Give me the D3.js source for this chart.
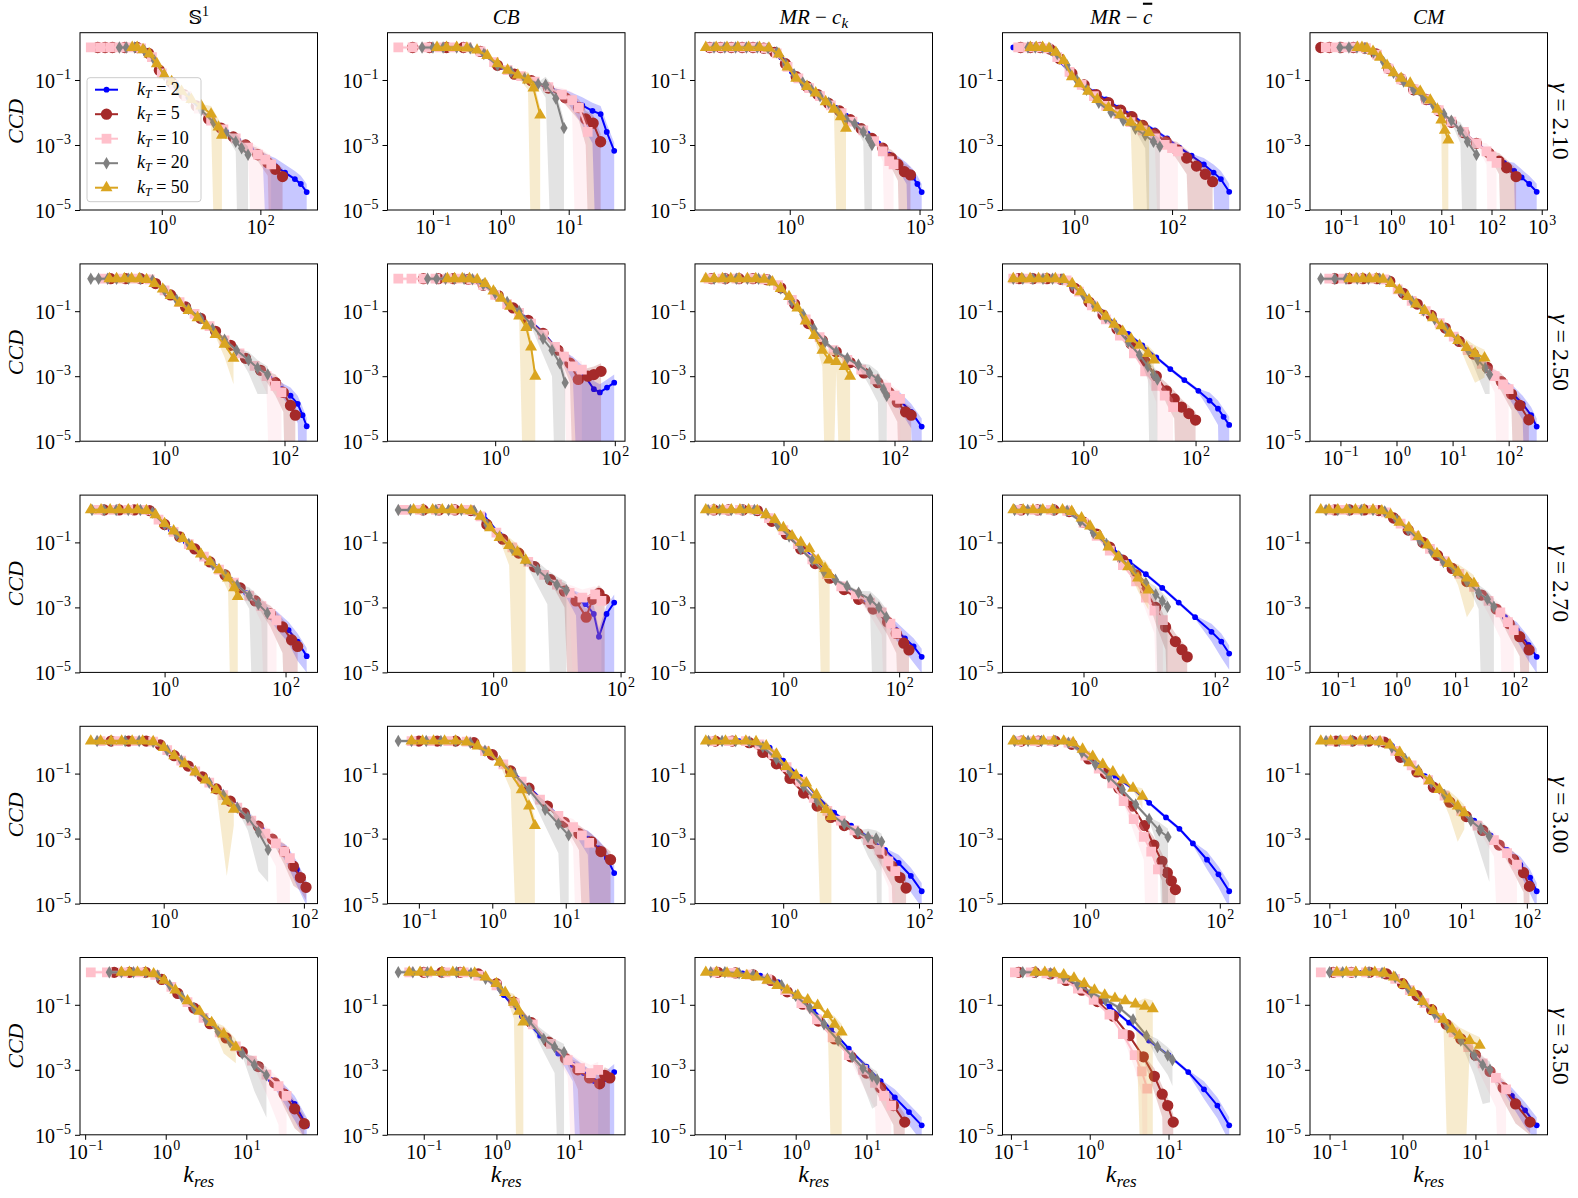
<!DOCTYPE html>
<html>
<head>
<meta charset="utf-8">
<script src="https://cdn.jsdelivr.net/npm/d3@7"></script>
<style>
  body { margin: 0; background: #fff; }
  text { font-family: "Liberation Serif", "Times New Roman", serif; fill: #000; }
</style>
</head>
<body>
<div id="chart-area"></div>
<script>
// categories
var kT = [2, 5, 10, 20, 50];
var colors = ["#0000ff", "#a52a2a", "#ffc0cb", "#808080", "#daa520"];
var gammas = ["2.10", "2.50", "2.70", "3.00", "3.50"];
var yTicks = [-1, -3, -5];
// x tick exponents per row / column
var xTicks = [
  [[0, 2], [-1, 0, 1], [0, 3], [0, 2], [-1, 0, 1, 2, 3]],
  [[0, 2], [0, 2], [0, 2], [0, 2], [-1, 0, 1, 2]],
  [[0, 2], [0, 2], [0, 2], [0, 2], [-1, 0, 1, 2]],
  [[0, 2], [-1, 0, 1], [0, 2], [0, 2], [-1, 0, 1, 2]],
  [[-1, 0, 1], [-1, 0, 1], [-1, 0, 1], [-1, 0, 1], [-1, 0, 1]]
];

// data: one array per panel, five series (kT = 2, 5, 10, 20, 50)
// each point = [log10 k_res, log10 CCD, band half width in decades (optional)]
var s1_210 = [
 [[-0.95,0],[-0.7,0],[-0.45,-0.02],[-0.2,-0.3],[0.05,-0.87],[0.3,-1.22],[0.55,-1.57],[0.8,-1.95],[1.05,-2.3],[1.3,-2.58],[1.55,-2.85],[1.8,-3.12],[2.05,-3.4,0.15],[2.3,-3.65,9],[2.5,-3.85,9],[2.7,-4.05,9],[2.82,-4.2,9],[2.94,-4.45,9]],
 [[-1.3,0],[-1.15,0],[-1.0,0],[-0.75,0],[-0.5,0],[-0.27,-0.18],[-0.05,-0.7],[0.2,-1.08],[0.45,-1.45],[0.7,-1.8],[0.95,-2.2],[1.2,-2.48],[1.45,-2.75],[1.7,-3.0],[1.95,-3.3,0.2],[2.15,-3.55,0.4],[2.3,-3.75,9],[2.45,-3.97,9]],
 [[-1.44,0],[-1.25,0],[-1.05,0],[-0.85,0],[-0.65,0],[-0.42,-0.03],[-0.2,-0.3],[0,-0.8],[0.25,-1.15],[0.5,-1.5],[0.75,-1.88],[1.0,-2.25],[1.25,-2.52],[1.5,-2.8],[1.75,-3.08,0.2],[1.95,-3.3,9],[2.1,-3.45,9],[2.22,-3.6,9]],
 [[-0.86,0],[-0.72,0],[-0.55,0],[-0.35,-0.1],[-0.15,-0.4],[0.05,-0.85],[0.3,-1.2],[0.55,-1.55],[0.8,-1.92],[1.05,-2.3],[1.3,-2.62],[1.5,-2.9,0.3],[1.62,-3.1,9],[1.75,-3.3,9]],
 [[-0.6,0],[-0.5,0],[-0.38,-0.07],[-0.25,-0.2],[-0.1,-0.5],[0.05,-0.85],[0.2,-1.05],[0.4,-1.35],[0.6,-1.6],[0.8,-1.8],[1.0,-2.05,0.3],[1.15,-2.45,9],[1.22,-2.7,9]]
];
var cb_210 = [
 [[-1.0,0],[-0.75,0],[-0.5,-0.02],[-0.25,-0.2],[0,-0.6],[0.25,-0.85],[0.5,-1.05],[0.75,-1.3],[1.0,-1.55,0.2],[1.2,-1.78,0.6],[1.35,-1.95,1.0],[1.47,-2.05,9],[1.56,-2.6,9],[1.67,-3.18,9]],
 [[-1.3,0],[-1.05,0],[-0.8,0],[-0.55,0],[-0.3,-0.12],[-0.05,-0.55],[0.2,-0.82],[0.45,-1.02],[0.7,-1.25],[0.95,-1.55,0.2],[1.15,-1.85,0.4],[1.25,-2.2,0.8],[1.36,-2.33,9],[1.47,-2.9,9]],
 [[-1.51,0],[-1.3,0],[-1.1,0],[-0.9,0],[-0.7,0],[-0.5,0],[-0.3,-0.12],[-0.1,-0.45],[0.1,-0.7],[0.3,-0.88],[0.5,-1.05],[0.7,-1.22],[0.9,-1.45,0.2],[1.05,-1.62,0.4],[1.15,-1.85,9],[1.28,-2.6,9]],
 [[-1.16,0],[-1.0,0],[-0.85,0],[-0.65,0],[-0.45,-0.02],[-0.25,-0.2],[-0.05,-0.55],[0.15,-0.75],[0.35,-0.95],[0.55,-1.12],[0.66,-1.15,0.4],[0.81,-1.57,9],[0.93,-2.48,9]],
 [[-0.94,0],[-0.8,0],[-0.65,0],[-0.5,-0.02],[-0.35,-0.08],[-0.2,-0.25],[-0.05,-0.5],[0.1,-0.7],[0.25,-0.85],[0.4,-1.0,0.3],[0.48,-1.25,9],[0.58,-2.08,9]]
];
var mrck_210 = [
 [[-1.6,0],[-1.3,0],[-1.0,0],[-0.7,0],[-0.45,-0.05],[-0.2,-0.3],[0.05,-0.75],[0.3,-1.1],[0.55,-1.38],[0.8,-1.6],[1.05,-1.85],[1.3,-2.1],[1.55,-2.38],[1.8,-2.65],[2.05,-2.95],[2.3,-3.3],[2.5,-3.55,0.2],[2.7,-3.8,0.4],[2.85,-4.0,9],[2.95,-4.2,9],[3.05,-4.45,9]],
 [[-1.85,0],[-1.6,0],[-1.35,0],[-1.1,0],[-0.85,0],[-0.6,-0.02],[-0.35,-0.15],[-0.1,-0.5],[0.15,-0.9],[0.4,-1.2],[0.65,-1.45],[0.9,-1.72],[1.15,-1.95],[1.4,-2.22],[1.65,-2.5],[1.9,-2.8],[2.15,-3.1],[2.35,-3.4,0.3],[2.5,-3.6,0.5],[2.65,-3.82,9],[2.79,-3.92,9]],
 [[-1.8,0],[-1.55,0],[-1.3,0],[-1.05,0],[-0.8,0],[-0.55,-0.02],[-0.3,-0.18],[-0.05,-0.6],[0.2,-0.95],[0.45,-1.25],[0.7,-1.5],[0.95,-1.78],[1.2,-2.02],[1.45,-2.28],[1.7,-2.55],[1.95,-2.88],[2.15,-3.2,0.3],[2.3,-3.5,9],[2.4,-3.6,9]],
 [[-1.75,0],[-1.5,0],[-1.25,0],[-1.0,0],[-0.75,0],[-0.5,-0.02],[-0.3,-0.15],[-0.1,-0.5],[0.1,-0.82],[0.3,-1.08],[0.5,-1.3],[0.7,-1.5],[0.9,-1.7],[1.1,-1.95],[1.3,-2.2],[1.5,-2.35],[1.7,-2.6,0.3],[1.82,-2.8,9],[1.9,-3.0,9]],
 [[-1.94,0],[-1.7,0],[-1.45,0],[-1.2,0],[-0.95,0],[-0.7,0],[-0.48,-0.02],[-0.25,-0.2],[-0.05,-0.6],[0.15,-0.95],[0.4,-1.2],[0.6,-1.4],[0.83,-1.67],[1.02,-1.9],[1.18,-2.13,9],[1.3,-2.49,9]]
];
var mrcb_210 = [
 [[-1.25,0],[-1.06,0],[-0.85,0],[-0.6,-0.05],[-0.35,-0.35],[-0.1,-0.75],[0.15,-1.1],[0.4,-1.37],[0.65,-1.6],[0.9,-1.85],[1.15,-2.05],[1.4,-2.32],[1.65,-2.55],[1.9,-2.8],[2.15,-3.08],[2.4,-3.33],[2.65,-3.6,0.2],[2.85,-3.85,0.4],[3.0,-4.05,9],[3.17,-4.44,9]],
 [[-1.1,0],[-0.9,0],[-0.7,0],[-0.5,-0.05],[-0.3,-0.35],[-0.05,-0.8],[0.2,-1.15],[0.45,-1.45],[0.7,-1.7],[0.95,-1.93],[1.18,-2.13],[1.4,-2.4],[1.65,-2.65],[1.88,-2.9],[2.1,-3.15,0.3],[2.3,-3.4,0.5],[2.5,-3.65,9],[2.68,-3.9,9],[2.83,-4.13,9]],
 [[-1.15,0],[-0.95,0],[-0.75,0],[-0.55,-0.03],[-0.35,-0.3],[-0.1,-0.75],[0.15,-1.15],[0.4,-1.5],[0.65,-1.8],[0.9,-2.05],[1.15,-2.3],[1.4,-2.55],[1.65,-2.8,0.3],[1.85,-3.0,9],[2.0,-3.1,9],[2.12,-3.2,9]],
 [[-0.95,0],[-0.8,0],[-0.65,0],[-0.5,-0.03],[-0.35,-0.2],[-0.15,-0.55],[0.05,-1.0],[0.25,-1.3],[0.5,-1.7],[0.75,-2.0],[1.0,-2.25],[1.25,-2.5],[1.45,-2.7,0.4],[1.62,-2.9,9],[1.75,-3.05,9]],
 [[-0.9,0],[-0.78,0],[-0.65,0],[-0.52,-0.03],[-0.38,-0.15],[-0.22,-0.4],[-0.05,-0.9],[0.1,-1.12],[0.28,-1.35],[0.47,-1.6],[0.7,-1.85],[0.94,-2.07],[1.15,-2.3],[1.35,-2.45,9],[1.53,-2.62,9]]
];
var cm_210 = [
 [[-1.0,0],[-0.75,0],[-0.5,-0.03],[-0.25,-0.3],[0,-0.72],[0.25,-1.05],[0.5,-1.35],[0.75,-1.68],[1.0,-2.0],[1.25,-2.35],[1.5,-2.7],[1.75,-3.0],[2.0,-3.3],[2.25,-3.55],[2.45,-3.8,0.3],[2.6,-4.0,9],[2.75,-4.2,9],[2.9,-4.44,9]],
 [[-1.4,0],[-1.23,0],[-1.0,0],[-0.75,0],[-0.52,-0.02],[-0.3,-0.2],[-0.05,-0.65],[0.2,-0.97],[0.45,-1.3],[0.7,-1.6],[0.95,-1.95],[1.2,-2.3],[1.45,-2.62],[1.7,-2.95],[1.95,-3.25],[2.15,-3.5,0.4],[2.3,-3.7,9],[2.49,-3.97,9]],
 [[-1.3,0],[-1.1,0],[-0.9,0],[-0.7,0],[-0.5,-0.02],[-0.28,-0.22],[-0.05,-0.65],[0.2,-0.98],[0.45,-1.28],[0.7,-1.6],[0.95,-1.93],[1.2,-2.28],[1.45,-2.6],[1.7,-2.95],[1.9,-3.2,0.4],[2.0,-3.35,9],[2.1,-3.55,9]],
 [[-1.02,0],[-0.84,0],[-0.68,0],[-0.52,-0.02],[-0.35,-0.15],[-0.15,-0.45],[0.05,-0.78],[0.25,-1.05],[0.45,-1.3],[0.65,-1.55],[0.85,-1.8],[1.05,-2.05],[1.2,-2.25],[1.38,-2.55,0.4],[1.52,-2.9,9],[1.7,-3.3,9]],
 [[-0.67,0],[-0.58,0],[-0.48,-0.03],[-0.36,-0.12],[-0.22,-0.3],[-0.08,-0.55],[0.05,-0.78],[0.2,-0.95],[0.38,-1.1],[0.58,-1.35],[0.78,-1.62],[0.92,-1.9],[1.0,-2.23,0.4],[1.07,-2.55,9],[1.14,-2.85,9]]
];

var s1_250 = [
 [[-0.75,0],[-0.5,0],[-0.25,-0.02],[0,-0.36],[0.25,-0.72],[0.5,-1.08],[0.75,-1.46],[1.0,-1.9],[1.25,-2.3],[1.5,-2.68],[1.75,-3.06],[1.95,-3.4,0.2],[2.1,-3.6,0.4],[2.22,-3.85,0.6],[2.3,-4.2,9],[2.37,-4.54,9]],
 [[-0.9,0],[-0.65,0],[-0.4,0],[-0.15,-0.15],[0.1,-0.5],[0.35,-0.87],[0.6,-1.22],[0.85,-1.62],[1.1,-2.05],[1.35,-2.45],[1.6,-2.82],[1.85,-3.2,0.4],[1.98,-3.5,0.6],[2.1,-3.9,9],[2.18,-4.2,9]],
 [[-1.0,0],[-0.75,0],[-0.5,0],[-0.25,-0.02],[0,-0.36],[0.25,-0.72],[0.5,-1.08],[0.75,-1.46],[1.0,-1.9],[1.25,-2.3],[1.5,-2.68],[1.7,-3.0,0.5],[1.85,-3.3,9],[1.95,-3.5,9]],
 [[-1.23,0],[-1.1,0],[-0.95,0],[-0.8,0],[-0.6,0],[-0.4,0],[-0.2,-0.05],[0,-0.36],[0.2,-0.65],[0.4,-0.93],[0.6,-1.22],[0.8,-1.55],[1.0,-1.88],[1.2,-2.2],[1.4,-2.5,0.4],[1.55,-2.75,0.8],[1.72,-2.95,0.6]],
 [[-0.92,0],[-0.8,0],[-0.67,0],[-0.55,0],[-0.42,0],[-0.3,-0.03],[-0.17,-0.15],[-0.03,-0.32],[0.1,-0.52],[0.25,-0.75],[0.4,-0.98],[0.55,-1.2],[0.7,-1.45],[0.85,-1.72],[1.0,-2.02,0.4],[1.15,-2.45,0.8]]
];
var cb_250 = [
 [[-0.95,0],[-0.7,0],[-0.45,-0.02],[-0.2,-0.18],[0.05,-0.5],[0.3,-0.87],[0.55,-1.25],[0.8,-1.65],[1.05,-2.2],[1.3,-2.65,0.5],[1.5,-3.0,9],[1.65,-3.4,9],[1.75,-3.5,9],[1.87,-3.35,9],[1.99,-3.2,9]],
 [[-1.2,0],[-0.95,0],[-0.7,0],[-0.45,-0.02],[-0.2,-0.2],[0.05,-0.52],[0.3,-0.9],[0.55,-1.28],[0.8,-1.68],[1.05,-2.2],[1.25,-2.6,0.6],[1.39,-3.1,9],[1.55,-3.0,9],[1.65,-2.95,9],[1.77,-2.85,9]],
 [[-1.62,0],[-1.4,0],[-1.2,0],[-1.0,0],[-0.8,0],[-0.6,0],[-0.4,-0.03],[-0.2,-0.2],[0,-0.5],[0.2,-0.78],[0.4,-1.05],[0.6,-1.38],[0.8,-1.72],[1.0,-2.1],[1.15,-2.4,0.5],[1.3,-2.7,9],[1.45,-2.8,9]],
 [[-1.13,0],[-0.98,0],[-0.83,0],[-0.68,0],[-0.52,0],[-0.38,-0.02],[-0.2,-0.18],[0,-0.45],[0.2,-0.72],[0.4,-1.0],[0.6,-1.4],[0.8,-1.85,0.5],[0.95,-2.2,0.8],[1.08,-2.6,9],[1.17,-3.2,9]],
 [[-0.8,0],[-0.68,0],[-0.55,0],[-0.43,0],[-0.3,-0.03],[-0.17,-0.15],[-0.03,-0.38],[0.1,-0.6],[0.25,-0.85],[0.4,-1.15],[0.52,-1.5,9],[0.6,-2.1,9],[0.67,-3.0,9]]
];
var mrck_250 = [
 [[-1.1,0],[-0.85,0],[-0.6,0],[-0.35,-0.02],[-0.1,-0.2],[0.15,-0.65],[0.4,-1.25],[0.65,-1.8],[0.9,-2.2],[1.15,-2.5],[1.4,-2.82],[1.65,-3.15],[1.9,-3.45],[2.1,-3.75,0.3],[2.3,-4.1,0.5],[2.49,-4.55,9]],
 [[-1.3,0],[-1.05,0],[-0.8,0],[-0.55,0],[-0.3,-0.03],[-0.05,-0.28],[0.2,-0.78],[0.45,-1.38],[0.7,-1.9],[0.95,-2.25],[1.2,-2.58],[1.45,-2.9],[1.7,-3.2],[1.9,-3.5,0.4],[2.05,-3.8,0.6],[2.2,-4.1,9],[2.3,-4.2,9]],
 [[-1.35,0],[-1.1,0],[-0.85,0],[-0.6,0],[-0.35,-0.02],[-0.1,-0.2],[0.15,-0.65],[0.4,-1.25],[0.65,-1.8],[0.9,-2.2],[1.15,-2.5],[1.4,-2.8],[1.65,-3.1],[1.85,-3.35,0.5],[2.0,-3.6,9],[2.1,-3.7,9]],
 [[-1.25,0],[-1.05,0],[-0.85,0],[-0.65,0],[-0.45,0],[-0.25,-0.05],[-0.05,-0.3],[0.15,-0.7],[0.35,-1.1],[0.55,-1.55],[0.75,-1.95],[0.95,-2.25],[1.15,-2.45],[1.35,-2.65],[1.55,-2.9,0.4],[1.7,-3.1,0.7],[1.8,-3.4,9],[1.86,-3.6,9]],
 [[-1.4,0],[-1.25,0],[-1.1,0],[-0.95,0],[-0.8,0],[-0.65,0],[-0.5,0],[-0.35,-0.02],[-0.2,-0.1],[-0.05,-0.3],[0.1,-0.55],[0.25,-0.9],[0.4,-1.3],[0.55,-1.75],[0.7,-2.2,0.5],[0.82,-2.5,9],[0.95,-2.55,0.3],[1.1,-2.7,9],[1.2,-3.0,9]]
];
var mrcb_250 = [
 [[-1.2,0],[-0.95,0],[-0.7,0],[-0.45,-0.02],[-0.2,-0.25],[0.05,-0.6],[0.3,-1.0],[0.55,-1.35],[0.8,-1.7],[1.05,-2.05],[1.3,-2.42],[1.55,-2.78],[1.8,-3.12],[2.05,-3.45],[2.25,-3.75,0.3],[2.4,-4.0,0.5],[2.5,-4.25,9],[2.6,-4.5,9]],
 [[-1.15,0],[-0.9,0],[-0.65,0],[-0.4,-0.02],[-0.15,-0.3],[0.1,-0.72],[0.35,-1.12],[0.6,-1.55],[0.85,-2.0],[1.1,-2.55],[1.3,-3.0],[1.48,-3.45,0.4],[1.62,-3.7,0.6],[1.75,-3.95,9],[1.88,-4.15,9],[2.0,-4.35,9]],
 [[-1.25,0],[-1.0,0],[-0.75,0],[-0.5,0],[-0.3,-0.05],[-0.08,-0.4],[0.15,-0.82],[0.4,-1.25],[0.65,-1.75],[0.9,-2.3],[1.1,-2.85],[1.3,-3.3,0.5],[1.45,-3.6,9],[1.6,-3.95,9]],
 [[-1.25,0],[-1.08,0],[-0.9,0],[-0.72,0],[-0.55,0],[-0.38,-0.02],[-0.2,-0.2],[0,-0.5],[0.2,-0.85],[0.4,-1.2],[0.6,-1.55],[0.8,-1.95],[1.0,-2.35],[1.15,-2.7,0.4],[1.25,-2.95,9],[1.32,-3.1,9]],
 [[-1.25,0],[-1.1,0],[-0.95,0],[-0.8,0],[-0.65,0],[-0.5,0],[-0.35,-0.03],[-0.2,-0.15],[-0.05,-0.4],[0.1,-0.65],[0.25,-0.9],[0.4,-1.16],[0.55,-1.4],[0.7,-1.62],[0.85,-1.85],[1.0,-2.05],[1.15,-2.3,0.4],[1.26,-2.5,0.5]]
];
var cm_250 = [
 [[-0.9,0],[-0.65,0],[-0.4,0],[-0.15,-0.05],[0.1,-0.42],[0.35,-0.75],[0.6,-1.1],[0.85,-1.48],[1.1,-1.9],[1.35,-2.28],[1.6,-2.7],[1.85,-3.12],[2.05,-3.5,0.3],[2.25,-3.85,0.5],[2.4,-4.2,9],[2.5,-4.55,9]],
 [[-1.1,0],[-0.85,0],[-0.6,0],[-0.35,0],[-0.12,-0.08],[0.12,-0.45],[0.37,-0.78],[0.62,-1.13],[0.87,-1.52],[1.12,-1.93],[1.37,-2.32],[1.62,-2.73],[1.87,-3.17,0.3],[2.05,-3.55,0.5],[2.2,-3.9,9],[2.36,-4.34,9]],
 [[-1.2,0],[-0.95,0],[-0.7,0],[-0.45,0],[-0.22,-0.02],[0.02,-0.33],[0.27,-0.68],[0.52,-1.0],[0.77,-1.37],[1.02,-1.78],[1.27,-2.2],[1.52,-2.62],[1.75,-3.0,0.5],[1.9,-3.25,9],[2.0,-3.4,9]],
 [[-1.35,0],[-1.1,0],[-0.9,0],[-0.7,0],[-0.5,0],[-0.3,0],[-0.12,-0.08],[0.08,-0.4],[0.28,-0.7],[0.48,-0.98],[0.68,-1.25],[0.88,-1.55],[1.08,-1.88],[1.28,-2.2],[1.45,-2.5,0.5],[1.58,-2.75,0.8],[1.66,-2.95,0.6]],
 [[-0.84,0],[-0.72,0],[-0.6,0],[-0.48,0],[-0.36,0],[-0.24,-0.02],[-0.1,-0.15],[0.05,-0.35],[0.2,-0.55],[0.35,-0.78],[0.5,-0.98],[0.65,-1.2],[0.8,-1.45],[0.95,-1.68],[1.1,-1.9],[1.25,-2.12,0.5],[1.4,-2.3,0.9],[1.57,-2.44,0.6]]
];

var s1_270 = [
 [[-0.9,0],[-0.65,0],[-0.4,0],[-0.15,-0.15],[0.1,-0.6],[0.35,-0.98],[0.6,-1.36],[0.85,-1.76],[1.1,-2.16],[1.35,-2.56],[1.6,-2.96],[1.85,-3.36,0.3],[2.05,-3.7,0.4],[2.2,-4.05,0.6],[2.35,-4.5,0.5]],
 [[-1.0,0],[-0.75,0],[-0.5,0],[-0.25,-0.02],[0,-0.45],[0.25,-0.83],[0.5,-1.2],[0.75,-1.6],[1.0,-2.0],[1.25,-2.4],[1.5,-2.8],[1.75,-3.2,0.4],[1.95,-3.6,0.8],[2.1,-4.0,9],[2.2,-4.2,9]],
 [[-1.1,0],[-0.85,0],[-0.6,0],[-0.35,0],[-0.1,-0.3],[0.15,-0.68],[0.4,-1.05],[0.65,-1.44],[0.9,-1.84],[1.15,-2.24],[1.4,-2.64],[1.6,-2.96,0.5],[1.75,-3.2,9],[1.85,-3.4,9]],
 [[-1.2,0],[-1.0,0],[-0.8,0],[-0.6,0],[-0.4,0],[-0.2,-0.08],[0,-0.45],[0.2,-0.75],[0.4,-1.05],[0.6,-1.36],[0.8,-1.68],[1.0,-2.0],[1.2,-2.32],[1.4,-2.64,0.4],[1.55,-2.9,9],[1.7,-3.18,9]],
 [[-1.22,0],[-1.05,0],[-0.9,0],[-0.75,0],[-0.6,0],[-0.45,0],[-0.3,-0.02],[-0.15,-0.15],[0,-0.42],[0.15,-0.65],[0.3,-0.88],[0.45,-1.12],[0.6,-1.36],[0.75,-1.6],[0.9,-1.84],[1.05,-2.1,0.4],[1.15,-2.4,9],[1.21,-2.67,9]]
];
var cb_270 = [
 [[-0.9,0],[-0.65,0],[-0.4,0],[-0.15,-0.15],[0.1,-0.75],[0.35,-1.2],[0.6,-1.65],[0.85,-2.05],[1.1,-2.45],[1.3,-2.75,0.5],[1.45,-2.9,9],[1.58,-3.2,9],[1.66,-3.9,9],[1.78,-3.2,9],[1.9,-2.85,9]],
 [[-1.1,0],[-0.85,0],[-0.6,0],[-0.35,-0.02],[-0.1,-0.45],[0.15,-0.9],[0.4,-1.33],[0.65,-1.75],[0.9,-2.15],[1.12,-2.5,0.5],[1.3,-2.8,9],[1.46,-3.3,9],[1.56,-2.75,9],[1.66,-2.57,9],[1.75,-2.75,9]],
 [[-1.4,0],[-1.15,0],[-0.9,0],[-0.65,0],[-0.4,0],[-0.2,-0.2],[0.05,-0.7],[0.3,-1.15],[0.55,-1.6],[0.8,-2.0],[1.0,-2.3],[1.2,-2.55,0.5],[1.4,-2.7,9],[1.6,-2.6,9],[1.7,-2.8,9]],
 [[-1.49,0],[-1.3,0],[-1.1,0],[-0.9,0],[-0.7,0],[-0.5,0],[-0.3,-0.03],[-0.1,-0.45],[0.1,-0.82],[0.3,-1.2],[0.5,-1.55],[0.7,-1.85,0.5],[0.85,-2.1,0.8],[1.0,-2.3,9],[1.15,-2.47,9]],
 [[-1.25,0],[-1.1,0],[-0.95,0],[-0.8,0],[-0.65,0],[-0.5,0],[-0.35,-0.03],[-0.2,-0.2],[-0.05,-0.55],[0.1,-0.85],[0.25,-1.1,0.6],[0.38,-1.3,9],[0.51,-1.55,9]]
];
var mrck_270 = [
 [[-1.0,0],[-0.75,0],[-0.5,0],[-0.25,-0.25],[0,-0.6],[0.25,-1.0],[0.5,-1.45],[0.75,-1.95],[1.0,-2.3],[1.25,-2.6],[1.5,-2.9],[1.75,-3.3],[1.95,-3.7,0.3],[2.1,-3.95,0.4],[2.25,-4.2,0.5],[2.39,-4.52,0.5]],
 [[-1.2,0],[-0.95,0],[-0.7,0],[-0.45,-0.02],[-0.2,-0.35],[0.05,-0.75],[0.3,-1.2],[0.55,-1.65],[0.8,-2.1],[1.05,-2.45],[1.3,-2.75],[1.55,-3.05],[1.8,-3.45,0.4],[1.95,-3.8,0.6],[2.08,-4.1,9],[2.17,-4.31,9]],
 [[-1.25,0],[-1.0,0],[-0.75,0],[-0.5,0],[-0.25,-0.25],[0,-0.62],[0.25,-1.05],[0.5,-1.52],[0.75,-1.98],[1.0,-2.35],[1.25,-2.6],[1.5,-2.85,0.4],[1.7,-3.15,0.7],[1.85,-3.5,9],[1.95,-3.8,9]],
 [[-1.3,0],[-1.1,0],[-0.9,0],[-0.7,0],[-0.5,0],[-0.3,-0.12],[-0.1,-0.45],[0.1,-0.82],[0.3,-1.2],[0.5,-1.55],[0.7,-1.9],[0.9,-2.15],[1.1,-2.35],[1.3,-2.55],[1.5,-2.75,0.5],[1.65,-3.0,9],[1.78,-3.3,9]],
 [[-1.34,0],[-1.2,0],[-1.05,0],[-0.9,0],[-0.75,0],[-0.6,0],[-0.45,-0.02],[-0.3,-0.15],[-0.15,-0.3],[0,-0.55],[0.15,-0.8],[0.3,-1.0],[0.45,-1.2],[0.6,-1.55],[0.72,-1.8,9],[0.8,-2.0,9]]
];
var mrcb_270 = [
 [[-0.8,0],[-0.55,0],[-0.3,-0.02],[-0.05,-0.3],[0.2,-0.75],[0.45,-1.2],[0.7,-1.6],[0.95,-1.98],[1.2,-2.4],[1.45,-2.85],[1.7,-3.3],[1.95,-3.75,0.3],[2.1,-4.05,0.5],[2.22,-4.42,0.5]],
 [[-0.95,0],[-0.7,0],[-0.45,0],[-0.22,-0.05],[0,-0.38],[0.2,-0.75],[0.4,-1.15],[0.6,-1.55],[0.8,-2.0],[0.95,-2.5],[1.1,-3.0,0.5],[1.25,-3.6,0.7],[1.4,-4.05,9],[1.5,-4.3,9],[1.58,-4.52,9]],
 [[-1.0,0],[-0.75,0],[-0.5,0],[-0.25,-0.03],[0,-0.4],[0.2,-0.8],[0.4,-1.25],[0.6,-1.7],[0.8,-2.2],[0.95,-2.7,0.4],[1.08,-3.1,0.7],[1.21,-3.39,9]],
 [[-1.05,0],[-0.85,0],[-0.65,0],[-0.45,0],[-0.25,-0.03],[-0.05,-0.35],[0.15,-0.7],[0.35,-1.05],[0.55,-1.45],[0.75,-1.85],[0.95,-2.25],[1.1,-2.6,0.4],[1.2,-2.8,9],[1.28,-2.98,9]],
 [[-1.07,0],[-0.92,0],[-0.77,0],[-0.62,0],[-0.47,0],[-0.32,0],[-0.18,-0.05],[-0.03,-0.25],[0.1,-0.5],[0.25,-0.8],[0.38,-1.14],[0.53,-1.45],[0.68,-1.75],[0.83,-2.1,0.4],[0.99,-2.47,0.6]]
];
var cm_270 = [
 [[-0.9,0],[-0.65,0],[-0.4,0],[-0.15,-0.12],[0.1,-0.45],[0.35,-0.8],[0.6,-1.2],[0.85,-1.6],[1.1,-2.0],[1.35,-2.4],[1.6,-2.85],[1.85,-3.3],[2.05,-3.7,0.3],[2.25,-4.15,0.5],[2.39,-4.52,0.5]],
 [[-1.05,0],[-0.8,0],[-0.55,0],[-0.3,-0.02],[-0.05,-0.25],[0.2,-0.62],[0.45,-1.0],[0.7,-1.4],[0.95,-1.8],[1.2,-2.2],[1.45,-2.62],[1.7,-3.05],[1.92,-3.5,0.4],[2.1,-3.9,0.6],[2.26,-4.31,9]],
 [[-1.15,0],[-0.9,0],[-0.65,0],[-0.4,0],[-0.18,-0.08],[0.07,-0.42],[0.32,-0.8],[0.57,-1.2],[0.82,-1.58],[1.07,-1.97],[1.32,-2.37],[1.57,-2.8,0.4],[1.77,-3.15,0.8],[1.9,-3.45,9],[2.0,-3.7,9]],
 [[-1.2,0],[-1.0,0],[-0.8,0],[-0.6,0],[-0.4,0],[-0.2,-0.05],[0,-0.3],[0.2,-0.62],[0.4,-0.95],[0.6,-1.28],[0.8,-1.6],[1.0,-1.9],[1.2,-2.2],[1.4,-2.55,0.5],[1.55,-2.75,9],[1.66,-2.98,9]],
 [[-1.29,0],[-1.15,0],[-1.0,0],[-0.85,0],[-0.7,0],[-0.55,0],[-0.4,0],[-0.25,-0.03],[-0.1,-0.15],[0.05,-0.38],[0.21,-0.55],[0.37,-0.82],[0.53,-1.08],[0.69,-1.35],[0.89,-1.65],[1.05,-1.92,0.4],[1.2,-2.1,1.2],[1.32,-2.26,0.7]]
];

var s1_300 = [
 [[-0.6,0],[-0.4,0],[-0.2,0],[0,-0.22],[0.2,-0.52],[0.4,-0.85],[0.6,-1.18],[0.8,-1.55],[1.0,-1.93],[1.2,-2.32],[1.4,-2.72],[1.6,-3.12],[1.75,-3.45,0.3],[1.9,-3.95,0.5],[2.04,-4.57,0.5]],
 [[-0.75,0],[-0.5,0],[-0.25,0],[-0.05,-0.12],[0.15,-0.45],[0.35,-0.77],[0.55,-1.1],[0.75,-1.47],[0.95,-1.85],[1.15,-2.22],[1.35,-2.62],[1.55,-3.02],[1.72,-3.4,0.4],[1.85,-3.85,0.6],[1.95,-4.2,0.4],[2.03,-4.5,0.4]],
 [[-0.9,0],[-0.65,0],[-0.4,0],[-0.15,-0.02],[0.05,-0.28],[0.25,-0.6],[0.45,-0.93],[0.65,-1.28],[0.85,-1.66],[1.05,-2.05],[1.25,-2.45],[1.45,-2.85,0.4],[1.6,-3.15,0.7],[1.72,-3.4,9],[1.8,-3.6,9]],
 [[-0.95,0],[-0.75,0],[-0.55,0],[-0.35,0],[-0.15,-0.03],[0.05,-0.28],[0.25,-0.6],[0.45,-0.93],[0.65,-1.28],[0.85,-1.66],[1.05,-2.05],[1.2,-2.35,0.4],[1.35,-2.8,1.2],[1.49,-3.34,1.0]],
 [[-1.04,0],[-0.9,0],[-0.75,0],[-0.6,0],[-0.45,0],[-0.3,0],[-0.15,-0.02],[0,-0.2],[0.15,-0.45],[0.3,-0.7],[0.45,-0.95],[0.6,-1.2],[0.75,-1.5],[0.9,-1.85,2.3],[1.0,-2.1,0.5]]
];
var cb_300 = [
 [[-0.85,0],[-0.6,0],[-0.35,-0.02],[-0.1,-0.3],[0.15,-0.7],[0.4,-1.2],[0.65,-1.75],[0.9,-2.3],[1.1,-2.7],[1.3,-3.0,0.5],[1.45,-3.3,9],[1.56,-3.6,9],[1.66,-4.06,9]],
 [[-1.0,0],[-0.75,0],[-0.5,0],[-0.25,-0.05],[0,-0.42],[0.25,-0.92],[0.5,-1.45],[0.75,-2.0],[0.98,-2.5],[1.18,-2.85,0.5],[1.35,-3.1,9],[1.48,-3.4,9],[1.61,-3.65,9]],
 [[-1.1,0],[-0.85,0],[-0.6,0],[-0.35,-0.02],[-0.1,-0.3],[0.15,-0.72],[0.4,-1.25],[0.65,-1.8],[0.9,-2.3],[1.1,-2.65,0.6],[1.22,-2.9,9],[1.32,-3.13,9]],
 [[-1.28,0],[-1.1,0],[-0.9,0],[-0.7,0],[-0.5,0],[-0.3,-0.05],[-0.1,-0.3],[0.1,-0.62],[0.3,-1.02],[0.5,-1.5],[0.72,-2.11,0.5],[0.9,-2.55,0.9],[1.04,-2.9,9]],
 [[-1.1,0],[-0.95,0],[-0.8,0],[-0.65,0],[-0.5,0],[-0.35,-0.03],[-0.2,-0.15],[-0.05,-0.35],[0.1,-0.65],[0.25,-1.0,0.5],[0.4,-1.5,9],[0.5,-2.0,9],[0.58,-2.6,9]]
];
var mrck_300 = [
 [[-0.9,0],[-0.65,0],[-0.4,0],[-0.2,-0.2],[0,-0.6],[0.25,-1.1],[0.5,-1.7],[0.75,-2.2],[1.0,-2.6],[1.25,-2.95],[1.5,-3.35],[1.7,-3.75,0.3],[1.88,-4.15,0.5],[2.04,-4.62,0.5]],
 [[-1.0,0],[-0.75,0],[-0.5,-0.05],[-0.3,-0.35],[-0.1,-0.7],[0.1,-1.15],[0.3,-1.6],[0.5,-2.0],[0.7,-2.35],[0.9,-2.6],[1.1,-2.85],[1.3,-3.15],[1.45,-3.45,0.4],[1.6,-3.85,0.6],[1.72,-4.2,9],[1.81,-4.52,9]],
 [[-1.05,0],[-0.8,0],[-0.55,0],[-0.35,-0.1],[-0.15,-0.4],[0.05,-0.8],[0.25,-1.25],[0.45,-1.75],[0.65,-2.15],[0.85,-2.45],[1.05,-2.75],[1.25,-3.05],[1.42,-3.35,0.5],[1.55,-3.7,0.8],[1.65,-4.0,9]],
 [[-1.1,0],[-0.9,0],[-0.7,0],[-0.5,-0.02],[-0.3,-0.18],[-0.1,-0.55],[0.1,-0.95],[0.3,-1.4],[0.5,-1.85],[0.7,-2.25],[0.9,-2.55],[1.1,-2.8],[1.25,-2.95,0.6],[1.37,-3.0,1.0],[1.45,-3.1,9]],
 [[-1.14,0],[-1.0,0],[-0.85,0],[-0.7,0],[-0.55,0],[-0.4,-0.02],[-0.25,-0.15],[-0.1,-0.4],[0.04,-0.78],[0.19,-1.05],[0.34,-1.29],[0.49,-1.65],[0.63,-2.11,9],[0.71,-2.32,9]]
];
var mrcb_300 = [
 [[-0.8,0],[-0.55,0],[-0.3,-0.02],[-0.05,-0.3],[0.2,-0.75],[0.45,-1.1],[0.7,-1.45],[0.95,-1.9],[1.2,-2.35],[1.4,-2.7],[1.6,-3.15],[1.81,-3.65,0.3],[1.98,-4.1,0.4],[2.14,-4.62,0.5]],
 [[-0.95,0],[-0.7,0],[-0.45,0],[-0.2,-0.1],[0.05,-0.55],[0.3,-1.0],[0.5,-1.45],[0.7,-2.0],[0.88,-2.6],[1.02,-3.2,0.5],[1.14,-3.7,0.6],[1.22,-4.05,9],[1.28,-4.3,9],[1.34,-4.57,9]],
 [[-1.0,0],[-0.75,0],[-0.5,0],[-0.25,-0.05],[0,-0.45],[0.2,-0.85],[0.4,-1.3],[0.57,-1.85],[0.72,-2.4,0.4],[0.87,-2.95,0.7],[0.98,-3.4,9],[1.08,-3.95,9]],
 [[-1.05,0],[-0.85,0],[-0.65,0],[-0.45,0],[-0.25,-0.05],[-0.05,-0.35],[0.15,-0.72],[0.35,-1.1],[0.55,-1.5],[0.75,-1.95],[0.95,-2.4],[1.1,-2.75,0.6],[1.23,-2.95,9]],
 [[-1.07,0],[-0.92,0],[-0.77,0],[-0.62,0],[-0.47,0],[-0.32,0],[-0.18,-0.05],[-0.04,-0.25],[0.11,-0.47],[0.26,-0.72],[0.41,-0.95],[0.56,-1.2],[0.71,-1.45],[0.85,-1.7,0.4]]
];
var cm_300 = [
 [[-0.75,0],[-0.5,0],[-0.25,0],[-0.05,-0.15],[0.2,-0.62],[0.45,-1.08],[0.7,-1.55],[0.95,-2.02],[1.2,-2.45],[1.45,-2.9],[1.7,-3.35],[1.9,-3.8,0.3],[2.05,-4.2,0.5],[2.15,-4.62,0.5]],
 [[-0.9,0],[-0.65,0],[-0.4,0],[-0.17,-0.03],[0.08,-0.5],[0.33,-0.95],[0.58,-1.42],[0.83,-1.88],[1.08,-2.32],[1.33,-2.75],[1.58,-3.2],[1.8,-3.65,0.4],[1.95,-4.05,0.6],[2.04,-4.47,9]],
 [[-1.0,0],[-0.75,0],[-0.5,0],[-0.25,0],[0,-0.3],[0.25,-0.75],[0.5,-1.2],[0.75,-1.68],[1.0,-2.15],[1.25,-2.6],[1.5,-3.05,0.5],[1.7,-3.45,9],[1.85,-3.8,9]],
 [[-1.05,0],[-0.85,0],[-0.65,0],[-0.45,0],[-0.25,-0.02],[-0.05,-0.2],[0.15,-0.55],[0.35,-0.9],[0.55,-1.28],[0.75,-1.66],[0.95,-2.05],[1.15,-2.45],[1.3,-2.7,0.8],[1.43,-2.93,1.4]],
 [[-1.13,0],[-0.98,0],[-0.83,0],[-0.68,0],[-0.53,0],[-0.38,0],[-0.23,-0.02],[-0.08,-0.12],[0.07,-0.35],[0.21,-0.67],[0.36,-0.95],[0.52,-1.22],[0.67,-1.49],[0.82,-1.78,0.5],[0.95,-2.0,1.1],[1.05,-2.21,0.5]]
];

var s1_350 = [
 [[-0.5,0],[-0.3,0],[-0.1,-0.12],[0.1,-0.55],[0.3,-1.0],[0.5,-1.45],[0.7,-1.9],[0.9,-2.35],[1.1,-2.8],[1.3,-3.3],[1.45,-3.65,0.3],[1.6,-4.05,0.5],[1.75,-4.72,0.5]],
 [[-0.64,0],[-0.45,0],[-0.25,0],[-0.05,-0.22],[0.15,-0.65],[0.35,-1.1],[0.55,-1.58],[0.75,-2.02],[0.95,-2.45],[1.15,-2.9],[1.35,-3.4],[1.47,-3.75,0.4],[1.6,-4.2,0.6],[1.72,-4.66,0.4]],
 [[-0.93,0],[-0.73,0],[-0.53,0],[-0.33,0],[-0.13,-0.08],[0.07,-0.45],[0.27,-0.92],[0.47,-1.4],[0.67,-1.85],[0.87,-2.28],[1.07,-2.72],[1.25,-3.15,0.6],[1.4,-3.5,1.2],[1.5,-3.8,9]],
 [[-0.7,0],[-0.55,0],[-0.4,0],[-0.25,0],[-0.1,-0.1],[0.05,-0.4],[0.2,-0.75],[0.35,-1.1],[0.5,-1.45],[0.65,-1.82],[0.8,-2.15],[0.95,-2.5],[1.1,-2.85,0.8],[1.25,-3.17,1.3]],
 [[-0.55,0],[-0.45,0],[-0.35,0],[-0.25,0],[-0.15,-0.05],[-0.02,-0.25],[0.12,-0.55],[0.27,-0.88],[0.42,-1.2],[0.57,-1.55],[0.72,-1.9,0.6],[0.87,-2.3,0.5]]
];
var cb_350 = [
 [[-0.9,0],[-0.65,0],[-0.4,0],[-0.15,-0.15],[0.1,-0.7],[0.35,-1.35],[0.6,-1.95],[0.85,-2.5],[1.05,-2.85,0.5],[1.2,-3.1,9],[1.35,-3.35,9],[1.45,-3.45,9],[1.55,-3.2,9],[1.62,-3.07,9]],
 [[-1.0,0],[-0.75,0],[-0.5,0],[-0.25,-0.05],[0,-0.35],[0.24,-0.92],[0.48,-1.55],[0.72,-2.15],[0.95,-2.65],[1.12,-3.0,0.6],[1.28,-3.25,9],[1.42,-3.43,9],[1.49,-3.17,9],[1.56,-3.25,9]],
 [[-1.2,0],[-0.95,0],[-0.7,0],[-0.45,0],[-0.25,-0.1],[0,-0.4],[0.25,-0.95],[0.5,-1.6],[0.75,-2.2],[0.98,-2.7,0.5],[1.15,-2.95,9],[1.3,-3.1,9],[1.4,-3.0,9]],
 [[-1.35,0],[-1.15,0],[-0.95,0],[-0.75,0],[-0.55,0],[-0.35,-0.03],[-0.15,-0.2],[0.05,-0.5],[0.25,-0.95],[0.45,-1.5],[0.65,-2.05,0.4],[0.8,-2.3,0.8],[0.93,-2.46,9]],
 [[-1.2,0],[-1.05,0],[-0.9,0],[-0.75,0],[-0.6,0],[-0.45,0],[-0.3,-0.03],[-0.15,-0.15],[0,-0.35],[0.12,-0.62],[0.24,-0.92,0.5],[0.31,-1.2,9],[0.37,-1.53,9]]
];
var mrck_350 = [
 [[-1.0,0],[-0.75,-0.03],[-0.5,-0.1],[-0.25,-0.3],[0,-0.75],[0.25,-1.15],[0.5,-1.75],[0.75,-2.35],[1.0,-2.9],[1.2,-3.35],[1.4,-3.85,0.3],[1.6,-4.3,0.4],[1.78,-4.71,0.5]],
 [[-1.1,0],[-0.85,-0.02],[-0.6,-0.08],[-0.35,-0.25],[-0.12,-0.6],[0.1,-0.98],[0.32,-1.5],[0.55,-2.05],[0.78,-2.6],[1.0,-3.1],[1.2,-3.55,0.4],[1.38,-4.1,0.6],[1.54,-4.61,9]],
 [[-1.15,0],[-0.9,-0.02],[-0.65,-0.07],[-0.4,-0.22],[-0.15,-0.55],[0.08,-0.95],[0.3,-1.45],[0.52,-2.0],[0.75,-2.55],[0.95,-3.0,0.5],[1.12,-3.4,0.8],[1.25,-3.8,9],[1.35,-4.1,9]],
 [[-1.2,0],[-1.0,0],[-0.8,-0.03],[-0.6,-0.08],[-0.4,-0.2],[-0.2,-0.4],[0,-0.72],[0.2,-1.1],[0.4,-1.6],[0.6,-2.1],[0.8,-2.6],[0.95,-2.95,0.5],[1.08,-3.2,1.0],[1.15,-3.3,0.8]],
 [[-1.27,0],[-1.12,0],[-0.97,-0.03],[-0.83,-0.05],[-0.69,-0.1],[-0.55,-0.15],[-0.4,-0.25],[-0.26,-0.41],[-0.12,-0.55],[0.03,-0.71],[0.17,-0.85],[0.31,-1.02],[0.45,-1.3],[0.55,-1.6,9],[0.65,-1.84,9]]
];
var mrcb_350 = [
 [[-0.97,0],[-0.75,0],[-0.5,-0.05],[-0.25,-0.3],[0,-0.65],[0.25,-1.05],[0.5,-1.55],[0.75,-2.1],[1.0,-2.55],[1.25,-3.07],[1.45,-3.6,0.3],[1.62,-4.1,0.4],[1.77,-4.71,0.5]],
 [[-0.9,0],[-0.7,0],[-0.5,-0.05],[-0.3,-0.25],[-0.1,-0.55],[0.1,-0.9],[0.3,-1.35],[0.5,-1.95],[0.68,-2.6],[0.82,-3.2,0.5],[0.92,-3.75,0.7],[0.99,-4.1,9],[1.06,-4.61,9]],
 [[-0.95,0],[-0.75,0],[-0.55,-0.03],[-0.35,-0.2],[-0.15,-0.5],[0.05,-0.85],[0.25,-1.3],[0.42,-1.9],[0.57,-2.55,0.4],[0.66,-3.05,0.7],[0.73,-3.58,9]],
 [[-0.85,0],[-0.68,0],[-0.5,-0.03],[-0.33,-0.15],[-0.15,-0.38],[0.02,-0.62],[0.2,-0.85],[0.38,-1.1],[0.55,-1.45],[0.72,-1.95],[0.86,-2.3,0.4],[0.99,-2.56,0.6],[1.05,-2.7,0.8]],
 [[-0.69,0],[-0.57,0],[-0.45,-0.03],[-0.33,-0.08],[-0.2,-0.18],[-0.07,-0.35],[0.06,-0.55],[0.19,-0.7],[0.32,-0.8],[0.45,-0.88],[0.58,-0.98],[0.7,-1.05,9],[0.8,-1.12,9]]
];
var cm_350 = [
 [[-0.8,0],[-0.55,0],[-0.3,0],[-0.1,-0.2],[0.1,-0.55],[0.3,-0.95],[0.5,-1.4],[0.7,-1.85],[0.9,-2.3],[1.1,-2.8],[1.3,-3.3],[1.5,-3.8,0.3],[1.68,-4.25,0.5],[1.84,-4.71,0.5]],
 [[-0.95,0],[-0.7,0],[-0.45,0],[-0.22,-0.05],[0,-0.35],[0.2,-0.72],[0.4,-1.15],[0.6,-1.6],[0.8,-2.05],[1.0,-2.55],[1.2,-3.05],[1.38,-3.55,0.4],[1.55,-4.05,0.6],[1.75,-4.61,0.4]],
 [[-1.12,0],[-0.9,0],[-0.7,0],[-0.5,0],[-0.3,-0.02],[-0.1,-0.2],[0.1,-0.55],[0.3,-0.95],[0.5,-1.4],[0.7,-1.85],[0.9,-2.3],[1.1,-2.8,0.5],[1.28,-3.25,0.9],[1.42,-3.6,9]],
 [[-1.0,0],[-0.82,0],[-0.64,0],[-0.46,0],[-0.28,-0.02],[-0.1,-0.15],[0.08,-0.5],[0.26,-0.88],[0.44,-1.28],[0.62,-1.7],[0.8,-2.1],[0.98,-2.55,0.6],[1.1,-2.85,1.2],[1.2,-3.0,1.0]],
 [[-0.9,0],[-0.77,0],[-0.64,0],[-0.51,0],[-0.38,0],[-0.25,-0.03],[-0.12,-0.15],[0.02,-0.38],[0.15,-0.62],[0.28,-0.9],[0.42,-1.18],[0.56,-1.45],[0.68,-1.75,9],[0.78,-1.94,9],[0.92,-2.1,0.3],[1.06,-2.25,0.3]]
];

var panels = [
  [s1_210, cb_210, mrck_210, mrcb_210, cm_210],
  [s1_250, cb_250, mrck_250, mrcb_250, cm_250],
  [s1_270, cb_270, mrck_270, mrcb_270, cm_270],
  [s1_300, cb_300, mrck_300, mrcb_300, cm_300],
  [s1_350, cb_350, mrck_350, mrcb_350, cm_350]
];

// layout
var W = 1578, H = 1198;
var pw = 237.5, ph = 177.3;
var left0 = 80, colStep = 307.5, top0 = 32.7, rowStep = 231.2;
var bandDefault = 0.06;

var svg = d3.select("#chart-area").append("svg")
    .attr("width", W).attr("height", H)
    .style("background", "#fff");

var symbols = [
  d3.symbol().type(d3.symbolCircle).size(26),
  d3.symbol().type(d3.symbolCircle).size(100),
  d3.symbol().type(d3.symbolSquare).size(95),
  d3.symbol().type(d3.symbolDiamond).size(45),
  d3.symbol().type(d3.symbolTriangle).size(62)
];

// "10" with a superscript exponent
function sup(sel, base, exp) {
  sel.append("tspan").text(base);
  sel.append("tspan").attr("font-size", 14).attr("dx", 1).attr("dy", -9).text(exp);
}

panels.forEach(function(row, r) {
  row.forEach(function(series, c) {
    var gx = left0 + c * colStep, gy = top0 + r * rowStep;
    var g = svg.append("g").attr("transform", "translate(" + gx + "," + gy + ")");

    // matplotlib style auto limits: data extent + 5% in log space
    var xs = [];
    series.forEach(function(s) { s.forEach(function(p) { xs.push(p[0]); }); });
    var lo = d3.min(xs), hi = d3.max(xs), pad = (hi - lo) * 0.05;
    var x = d3.scaleLog().domain([Math.pow(10, lo - pad), Math.pow(10, hi + pad)]).range([0, pw]);
    var y = d3.scaleLog().domain([1e-5, Math.pow(10, 0.455)]).range([ph, 0]);

    var clipId = "clip-" + r + "-" + c;
    g.append("clipPath").attr("id", clipId)
      .append("rect").attr("width", pw).attr("height", ph);

    var plot = g.append("g").attr("clip-path", "url(#" + clipId + ")");

    var area = d3.area()
      .x(function(p) { return x(Math.pow(10, p[0])); })
      .y0(function(p) { var w = p[2] === undefined ? bandDefault : p[2]; return y(Math.pow(10, p[1] - w)); })
      .y1(function(p) { var w = p[2] === undefined ? bandDefault : p[2]; return y(Math.pow(10, p[1] + Math.min(w, 0.25))); });
    var line = d3.line()
      .x(function(p) { return x(Math.pow(10, p[0])); })
      .y(function(p) { return y(Math.pow(10, p[1])); });

    series.forEach(function(s, i) {
      plot.append("path").datum(s)
        .attr("d", area)
        .attr("fill", colors[i]).attr("fill-opacity", 0.22).attr("stroke", "none");
      plot.append("path").datum(s)
        .attr("d", line)
        .attr("fill", "none").attr("stroke", colors[i]).attr("stroke-width", 2);
      plot.selectAll(".m" + i).data(s).enter().append("path")
        .attr("class", "m" + i)
        .attr("d", symbols[i])
        .attr("transform", function(p) { return "translate(" + x(Math.pow(10, p[0])) + "," + y(Math.pow(10, p[1])) + ")"; })
        .attr("fill", colors[i]);
    });

    // axes
    var xAxis = g.append("g").attr("transform", "translate(0," + ph + ")")
      .call(d3.axisBottom(x).tickValues(xTicks[r][c].map(function(t) { return Math.pow(10, t); }))
        .tickSize(5).tickSizeOuter(0).tickFormat(""));
    xAxis.select(".domain").remove();
    xAxis.selectAll(".tick line").attr("stroke", "#000").attr("stroke-width", 1);
    xAxis.selectAll(".tick").each(function(d) {
      var e = Math.round(Math.log10(d));
      var t = d3.select(this).append("text")
        .attr("y", 24).attr("text-anchor", "middle")
        .attr("font-size", 20).attr("fill", "#000");
      sup(t, "10", String(e).replace("-", "\u2212"));
    });

    var yAxis = g.append("g")
      .call(d3.axisLeft(y).tickValues(yTicks.map(function(t) { return Math.pow(10, t); }))
        .tickSize(5).tickSizeOuter(0).tickFormat(""));
    yAxis.select(".domain").remove();
    yAxis.selectAll(".tick line").attr("stroke", "#000").attr("stroke-width", 1);
    yAxis.selectAll(".tick").each(function(d) {
      var e = Math.round(Math.log10(d));
      var t = d3.select(this).append("text")
        .attr("x", -9).attr("y", 7.5).attr("text-anchor", "end")
        .attr("font-size", 20).attr("fill", "#000");
      sup(t, "10", String(e).replace("-", "\u2212"));
    });

    g.append("rect").attr("width", pw).attr("height", ph)
      .attr("fill", "none").attr("stroke", "#000").attr("stroke-width", 1);

    // labels
    if (c === 0) {
      g.append("text")
        .attr("transform", "translate(-57," + (ph / 2) + ") rotate(-90)")
        .attr("text-anchor", "middle").attr("font-size", 22).attr("font-style", "italic")
        .text("CCD");
    }
    if (c === 4) {
      var gl = g.append("text")
        .attr("transform", "translate(" + (pw + 5) + "," + (ph / 2) + ") rotate(90)")
        .attr("text-anchor", "middle").attr("font-size", 24);
      gl.append("tspan").attr("font-style", "italic").text("\u03b3");
      gl.append("tspan").text(" = " + gammas[r]);
    }
    if (r === 4) {
      var xl = g.append("text")
        .attr("x", pw / 2).attr("y", ph + 47)
        .attr("text-anchor", "middle").attr("font-size", 24).attr("font-style", "italic");
      xl.append("tspan").text("k");
      xl.append("tspan").attr("font-size", 17).attr("dy", 5).text("res");
    }
    if (r === 0) {
      var ht = g.append("text").attr("x", pw / 2).attr("y", -9)
        .attr("text-anchor", "middle").attr("font-size", 21);
      if (c === 0) {
        ht.append("tspan").attr("font-family", "DejaVu Serif, DejaVu Sans, serif").attr("font-size", 19).text("\ud835\udd4a");
        ht.append("tspan").attr("font-size", 14).attr("dy", -8).text("1");
      } else if (c === 1) {
        ht.append("tspan").attr("font-style", "italic").text("CB");
      } else if (c === 2) {
        ht.append("tspan").attr("font-style", "italic").text("MR");
        ht.append("tspan").text(" \u2212 ");
        ht.append("tspan").attr("font-style", "italic").text("c");
        ht.append("tspan").attr("font-style", "italic").attr("font-size", 15).attr("dy", 4).text("k");
      } else if (c === 3) {
        ht.append("tspan").attr("font-style", "italic").text("MR");
        ht.append("tspan").text(" \u2212 ");
        ht.append("tspan").attr("font-style", "italic").style("text-decoration", "overline").text("c");
      } else {
        ht.append("tspan").attr("font-style", "italic").text("CM");
      }
    }

    // legend in first panel
    if (r === 0 && c === 0) {
      var lg = g.append("g").attr("transform", "translate(7,45)");
      lg.append("rect").attr("width", 114).attr("height", 124).attr("rx", 3)
        .attr("fill", "#fff").attr("fill-opacity", 0.8)
        .attr("stroke", "#ccc").attr("stroke-width", 1);
      kT.forEach(function(k, i) {
        var ly = 12 + i * 24.5;
        lg.append("line").attr("x1", 8).attr("x2", 31).attr("y1", ly).attr("y2", ly)
          .attr("stroke", colors[i]).attr("stroke-width", 2);
        lg.append("path").attr("d", symbols[i]).attr("transform", "translate(19.5," + ly + ")")
          .attr("fill", colors[i]);
        var lt = lg.append("text").attr("x", 50).attr("y", ly + 5).attr("font-size", 18);
        lt.append("tspan").attr("font-style", "italic").text("k");
        lt.append("tspan").attr("font-style", "italic").attr("font-size", 12).attr("dy", 3).text("T");
        lt.append("tspan").attr("dy", -3).text(" = " + k);
      });
    }
  });
});
</script>
</body>
</html>
